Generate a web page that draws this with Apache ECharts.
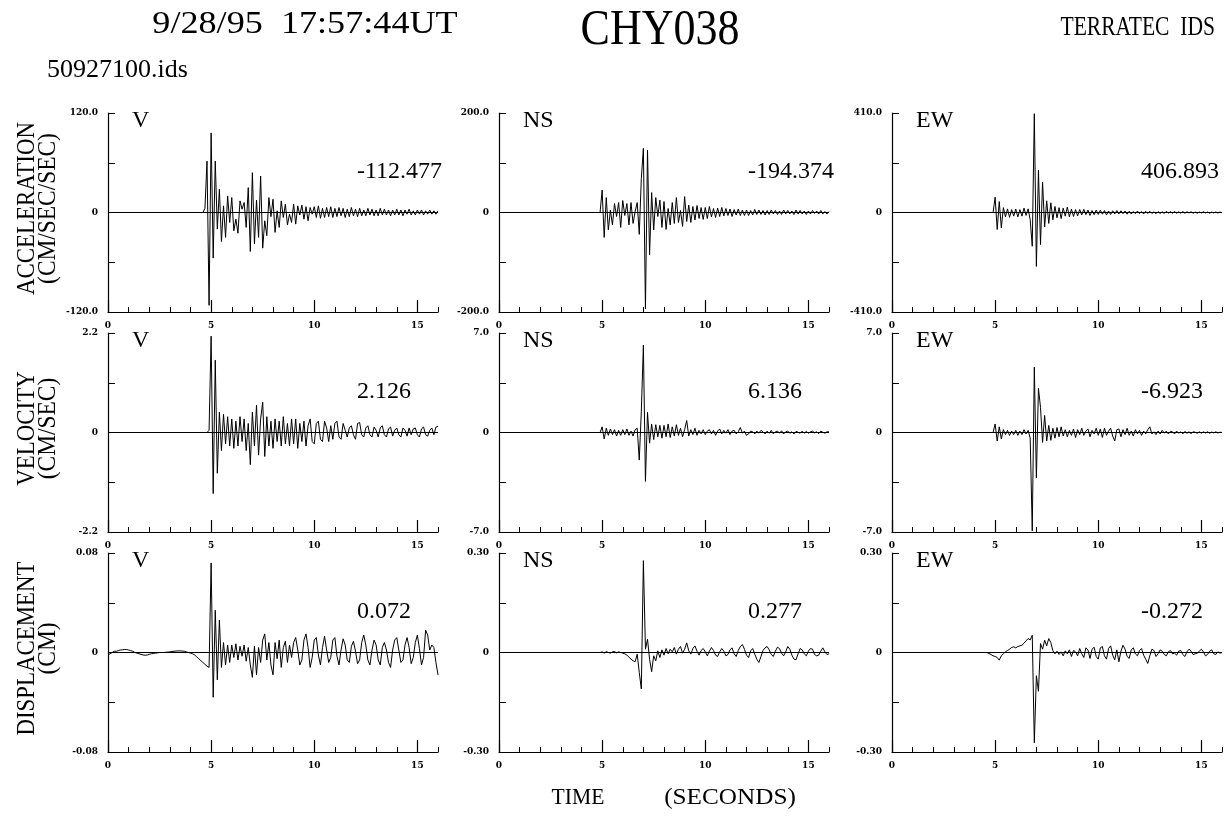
<!DOCTYPE html>
<html>
<head>
<meta charset="utf-8">
<script src="https://cdn.jsdelivr.net/npm/echarts@6/dist/echarts.min.js"></script>
<style>
  html, body { margin: 0; padding: 0; background: #fff; }
  #main { width: 1225px; height: 822px; }
</style>
</head>
<body>
<div id="main"></div>
<script>
// panel labels and axis text
const components = ["V", "NS", "EW"];
const quantities = [["ACCELERATION", "(CM/SEC/SEC)"], ["VELOCITY", "(CM/SEC)"], ["DISPLACEMENT", "(CM)"]];
const yRanges = [[120, 200, 410], [2.2, 7, 7], [0.08, 0.30, 0.30]];
const yDecimals = [1, 1, 2];
const peakValues = [["-112.477", "-194.374", "406.893"], ["2.126", "6.136", "-6.923"], ["0.072", "0.277", "-0.272"]];
const xTickLabels = [0, 5, 10, 15];

// samples every 0.1 s, 0 .. 16 s
const time = [];
for (let i = 0; i <= 160; i++) time.push(+(i * 0.1).toFixed(1));

const accV = [
  0,0,0,0,0,0,0,0,0,0,
  0,0,0,0,0,0,0,0,0,0,
  0,0,0,0,0,0,0,0,0,0,
  0,0,0,0,0,0,0,0,0,0,
  0,0,0,0,0,0,0,5,62,-112,
  96,-55,62,-20,28,-35,8,-30,20,-12,
  18,-22,-8,-25,14,4,12,-18,30,-47,
  48,-38,15,-30,44,-43,-10,-28,18,-5,
  16,-24,2,-18,14,-6,10,-15,-2,-12,
  10,-14,8,-3,9,-8,7,-10,6,-2,
  7,-6,8,-7,5,-6,6,-5,7,-6,
  5,-5,6,-4,5,-6,4,-5,6,-4,
  4,-5,5,-4,3,-4,5,-3,4,-4,
  3,-4,5,-3,4,-3,3,-4,3,-3,
  4,-3,3,-4,3,-2,4,-3,2,-3,
  3,-2,3,-3,2,-2,3,-2,2,-2,
  2
];
const accNS = [
  0,0,0,0,0,0,0,0,0,0,
  0,0,0,0,0,0,0,0,0,0,
  0,0,0,0,0,0,0,0,0,0,
  0,0,0,0,0,0,0,0,0,0,
  0,0,0,0,0,0,0,0,0,0,
  45,-50,30,-35,5,-25,18,-8,20,-30,
  24,-6,18,-25,20,-22,2,20,-44,68,
  129,-194,125,-85,40,-35,30,-8,25,-30,
  22,-34,8,-25,20,-22,30,-20,4,-28,
  32,-18,15,-20,12,-15,14,-12,10,-14,
  10,-12,12,-9,8,-10,9,-8,10,-7,
  8,-6,7,-8,6,-5,7,-6,5,-6,
  5,-6,4,-5,6,-4,5,-4,4,-5,
  4,-4,5,-3,4,-4,3,-4,5,-3,
  4,-3,3,-4,5,-3,4,-3,3,-4,
  3,-3,4,-2,3,-3,4,-3,2,-3,
  2
];
const accEW = [
  0,0,0,0,0,0,0,0,0,0,
  0,0,0,0,0,0,0,0,0,0,
  0,0,0,0,0,0,0,0,0,0,
  0,0,0,0,0,0,0,0,0,0,
  0,0,0,0,0,0,0,0,0,0,
  63,-70,45,-63,20,-18,15,-20,12,-15,
  14,-18,12,-15,18,-12,15,-30,-139,407,
  -222,174,-132,125,-60,48,-45,40,-30,25,
  -22,20,-25,18,-15,22,-18,14,-16,12,
  -14,12,-10,13,-9,10,-12,8,-9,10,
  -8,9,-7,8,-10,6,-8,7,-6,8,
  -6,7,-5,6,-7,5,-6,4,-5,6,
  -5,4,-6,5,-4,5,-4,3,-5,4,
  -4,3,-4,5,-3,4,-3,4,-3,3,
  -3,4,-3,3,-2,3,-3,2,-3,2,
  -2,3,-2,2,-3,2,-2,2,-2,2,
  -1
];
const velV = [
  0,0,0,0,0,0,0,0,0,0,
  0,0,0,0,0,0,0,0,0,0,
  0,0,0,0,0,0,0,0,0,0,
  0,0,0,0,0,0,0,0,0,0,
  0,0,0,0,0,0,0,0,0,0.05,
  2.13,-1.35,1.6,-0.9,0.45,-0.4,0.4,-0.25,0.35,-0.3,
  0.3,-0.35,0.25,-0.3,0.35,-0.2,0.3,-0.4,0.2,-0.71,
  0.45,-0.3,0.6,-0.5,0.3,0.67,-0.53,0.35,-0.3,0.25,
  -0.35,0.3,-0.2,0.25,-0.3,0.35,-0.25,0.2,-0.3,0.3,
  -0.25,0.3,-0.35,0.2,-0.2,0.25,-0.3,0.15,0.3,-0.2,
  -0.25,0.2,0.25,-0.15,-0.2,0.25,0.1,-0.2,0.15,-0.15,
  0.2,0.25,-0.1,-0.15,0.2,0.05,-0.1,0.1,0.15,-0.05,
  -0.15,0.2,0.22,-0.05,-0.1,0.1,0.15,-0.05,-0.1,0.12,
  0.05,-0.1,0.1,0.15,-0.05,-0.1,0.08,0.12,-0.08,0.05,
  0.1,-0.05,-0.1,0.1,0.05,-0.08,0.1,-0.05,0.08,0.1,
  -0.05,-0.1,0.08,0.12,-0.05,-0.08,0.05,0.1,-0.05,0.12,
  0.14
];
const velNS = [
  0,0,0,0,0,0,0,0,0,0,
  0,0,0,0,0,0,0,0,0,0,
  0,0,0,0,0,0,0,0,0,0,
  0,0,0,0,0,0,0,0,0,0,
  0,0,0,0,0,0,0,0,0,0,
  0.4,-0.45,0.3,-0.2,0.25,-0.15,0.2,-0.25,0.15,-0.2,
  0.2,-0.15,0.25,-0.2,0.1,-0.25,0.2,0.3,-1.94,1.5,
  6.14,-3.44,1.41,-0.75,0.6,-0.5,0.55,-0.3,0.5,-0.4,
  0.5,-0.3,0.6,-0.35,0.4,-0.25,0.55,-0.2,0.3,-0.3,
  0.2,0.84,-0.25,0.2,-0.15,0.3,-0.2,0.15,-0.1,0.2,
  -0.15,0.1,0.2,-0.1,0.15,-0.2,0.1,0.25,-0.1,0.15,
  -0.05,0.2,-0.15,0.1,0.15,-0.1,0.05,0.35,-0.05,0.1,
  -0.2,-0.1,0.1,0.05,-0.1,0.1,-0.05,0.15,0.05,-0.1,
  0.1,-0.05,0.15,-0.1,0.05,0.1,-0.05,0.12,-0.1,0.05,
  0.1,-0.05,0.05,-0.1,0.08,0.02,-0.05,0.1,-0.05,0.08,
  -0.05,0.05,0.1,-0.02,0.05,-0.08,0.1,0.02,-0.05,0.05,
  0.05
];
const velEW = [
  0,0,0,0,0,0,0,0,0,0,
  0,0,0,0,0,0,0,0,0,0,
  0,0,0,0,0,0,0,0,0,0,
  0,0,0,0,0,0,0,0,0,0,
  0,0,0,0,0,0,0,0,0,0,
  0.6,-0.6,0.4,-0.45,0.2,-0.15,0.15,-0.2,0.1,-0.15,
  0.15,-0.2,0.1,-0.15,0.2,-0.1,0.15,-0.4,-6.92,4.61,
  -3.2,3.1,1.77,-0.7,1.2,-0.6,0.5,-0.55,0.3,-0.4,
  0.35,-0.3,0.4,-0.25,0.2,-0.3,0.15,-0.2,0.25,-0.35,
  0.2,-0.15,0.3,-0.2,0.1,0.25,-0.3,0.15,-0.1,0.3,
  -0.2,0.25,-0.35,0.3,-0.2,0.1,0.3,-0.25,-0.6,0.2,
  0.25,-0.3,0.2,-0.15,0.3,-0.2,0.1,-0.25,0.2,-0.1,
  0.15,-0.2,0.1,-0.1,0.2,0.4,-0.1,0.05,-0.15,0.1,
  -0.1,0.15,-0.05,0.1,-0.1,0.08,0.05,-0.1,0.1,-0.05,
  0.05,-0.1,0.08,-0.05,0.05,-0.08,0.05,0.02,-0.05,0.05,
  -0.05,0.05,-0.03,0.05,-0.05,0.03,-0.02,0.05,-0.03,0.02,
  0
];
const disV = [
  -0.002,-0.001,0,0.001,0.001,0.0015,0.002,0.0022,0.0024,0.0024,
  0.002,0.0015,0.001,0,-0.0005,-0.001,-0.0015,-0.002,-0.0022,-0.002,
  -0.0015,-0.001,-0.0008,-0.0005,-0.0003,0,0,0,0.0002,0.0003,
  0.0005,0.0008,0.001,0.0012,0.0013,0.0013,0.0012,0.001,0.0005,0,
  -0.0005,-0.001,-0.002,-0.0035,-0.005,-0.0065,-0.008,-0.0095,-0.011,-0.012,
  0.072,-0.036,0.034,-0.022,0.026,-0.012,0.008,-0.01,0.006,-0.008,
  0.006,-0.004,0.007,-0.006,0.005,-0.003,0.006,-0.007,0.004,-0.01,
  -0.02,0.005,-0.018,0.004,-0.008,0.01,0.015,-0.006,0.008,-0.01,
  -0.018,0.008,-0.005,0.01,-0.012,0.004,0.009,-0.008,0.006,-0.004,
  0.008,0.012,0.002,-0.01,-0.006,0.01,0.015,0.004,-0.012,-0.004,
  0.01,0.012,-0.002,-0.01,0.004,0.013,0.002,-0.008,-0.004,0.01,
  0.012,-0.003,-0.01,0.002,0.011,0.006,-0.006,-0.008,0.005,0.009,
  0.001,-0.009,-0.006,0.008,0.014,0.006,-0.006,-0.01,0.002,0.01,
  0.006,-0.006,-0.01,0.004,0.008,0.002,-0.008,-0.012,0.002,0.01,
  0.012,0.002,-0.008,-0.006,0.006,0.012,0.004,-0.009,-0.004,0.008,
  0.014,0.003,-0.01,-0.004,0.018,0.014,0.002,0.006,0.004,-0.008,
  -0.018
];
const disNS = [
  0,0,0,0,0,0,0,0,0,0,
  0,0,0,0,0,0,0,0,0,0,
  0,0,0,0,0,0,0,0,0,0,
  0,0,0,0,0,0,0,0,0,0,
  0,0,0,0,0,0,0,0,0,0,
  0.002,-0.002,0.003,0,-0.002,0.002,0.003,-0.001,0.002,0,
  -0.002,-0.004,-0.008,-0.014,-0.02,-0.025,-0.028,-0.005,-0.06,-0.11,
  0.277,0.01,0.04,-0.02,-0.058,-0.01,-0.025,0.005,-0.015,0.008,
  -0.008,0.012,-0.004,0.01,0.002,0.015,-0.005,0.01,0.018,-0.002,
  0.01,0.029,0.005,-0.005,0.012,0.02,0.004,-0.008,0.006,0.012,
  0.002,-0.01,0.004,0.015,0.006,-0.008,-0.012,0.002,0.012,0.004,
  -0.01,-0.006,0.008,0.014,-0.004,-0.012,0.006,0.018,0.024,0.01,
  -0.008,-0.015,0.005,0.012,-0.005,-0.02,-0.03,-0.012,0.006,0.014,
  0.018,0.008,-0.006,-0.012,0.004,0.016,0.012,-0.002,-0.01,0.002,
  0.018,0.01,-0.008,-0.02,-0.022,-0.004,0.012,0.008,-0.004,-0.01,
  0.004,0.012,0.01,-0.006,-0.01,-0.008,0.004,0.014,0.002,-0.006,
  -0.004
];
const disEW = [
  0,0,0,0,0,0,0,0,0,0,
  0,0,0,0,0,0,0,0,0,0,
  0,0,0,0,0,0,0,0,0,0,
  0,0,0,0,0,0,0,0,0,0,
  0,0,0,0,0,0,0,-0.003,-0.006,-0.01,
  -0.012,-0.015,-0.023,-0.01,-0.004,0.002,0.006,0.01,0.015,0.017,
  0.014,0.018,0.02,0.022,0.028,0.035,0.042,0.038,0.052,-0.272,
  -0.07,-0.117,0.027,0.01,0.037,0.02,0.042,0.03,0.005,-0.004,
  0.004,-0.006,0.002,-0.01,0.005,-0.004,0.008,-0.012,0.006,0.002,
  -0.01,0.012,-0.004,-0.015,0.014,0.008,-0.018,0.01,0.016,-0.012,
  -0.02,0.014,0.018,-0.01,-0.02,0.012,0.02,-0.008,-0.022,0.008,
  -0.028,0.004,0.022,0.01,-0.012,-0.018,0.008,0.014,-0.004,-0.01,
  0.006,0.012,-0.008,-0.02,-0.033,-0.01,0.01,0.006,-0.012,-0.004,
  0.008,0.004,-0.006,-0.01,0.002,0.006,-0.004,-0.002,-0.008,0.004,
  0.006,-0.006,-0.012,0.002,0.01,0.004,-0.006,-0.004,-0.002,0.004,
  0.01,0.002,-0.01,-0.006,0.004,0.008,-0.004,-0.006,0.002,-0.002,
  0
];
const traces = [[accV, accNS, accEW], [velV, velNS, velEW], [disV, disNS, disEW]];

// layout
const colLeft = [108, 499, 892];
const rowTop = [113, 333, 553];
const plotW = 330, plotH = 199;
const serif = '"Liberation Serif", "Times New Roman", serif';
const tickFont = { fontFamily: '"DejaVu Serif", serif', fontWeight: "bold", fontSize: 9, color: "#000" };
const black = { color: "#000", width: 1.2 };

const grid = [], xAxis = [], yAxis = [], series = [], graphic = [];

for (let r = 0; r < 3; r++) {
  for (let c = 0; c < 3; c++) {
    const k = r * 3 + c;
    const R = yRanges[r][c];
    const d = yDecimals[r];
    grid.push({ left: colLeft[c], top: rowTop[r], width: plotW, height: plotH });
    // minor ticks every second
    xAxis.push({
      gridIndex: k, type: "value", min: 0, max: 16, interval: 1, position: "bottom",
      axisLine: { onZero: false, lineStyle: black },
      axisTick: { inside: true, length: 5, lineStyle: { color: "#000", width: 1 } },
      axisLabel: { show: false }, splitLine: { show: false }
    });
    // major ticks + labels
    xAxis.push({
      gridIndex: k, type: "value", min: 0, max: 16, position: "bottom",
      axisLine: { show: false, onZero: false },
      axisTick: { inside: true, length: 12, customValues: xTickLabels, lineStyle: { color: "#000", width: 1.2 } },
      axisLabel: Object.assign({ customValues: xTickLabels, margin: 9 }, tickFont),
      splitLine: { show: false }
    });
    yAxis.push({
      gridIndex: k, type: "value", min: -R, max: R, interval: R / 2,
      axisLine: { show: true, onZero: false, lineStyle: black },
      axisTick: { show: true, inside: true, length: 7, lineStyle: { color: "#000", width: 1 } },
      axisLabel: Object.assign({
        margin: 10,
        formatter: v => {
          if (Math.abs(v) < R * 1e-6) return "0";
          if (Math.abs(Math.abs(v) - R) < R * 1e-6) return (v < 0 ? "-" : "") + R.toFixed(d);
          return "";
        }
      }, tickFont),
      splitLine: { show: false }
    });
    const vals = traces[r][c];
    series.push({
      type: "line", xAxisIndex: 2 * k, yAxisIndex: k,
      data: time.map((t, i) => [t, vals[i]]),
      showSymbol: false, symbol: "none", sampling: null,
      lineStyle: { color: "#000", width: 1 },
      markLine: {
        silent: true, symbol: ["none", "none"], label: { show: false }, animation: false,
        lineStyle: { color: "#000", width: 1, type: "solid" },
        data: [{ yAxis: 0 }]
      }
    });
    graphic.push({
      type: "text", x: colLeft[c] + 24, y: rowTop[r] - 4,
      style: { text: components[c], font: "24px " + serif, fill: "#000", textVerticalAlign: "top", verticalAlign: "top" }
    });
    graphic.push({
      type: "text", x: colLeft[c] + 249, y: rowTop[r] + 59,
      style: { text: peakValues[r][c], font: "24px " + serif, fill: "#000", textVerticalAlign: "middle", verticalAlign: "middle" }
    });
  }
  // rotated quantity titles
  const mid = rowTop[r] + plotH / 2 - 4;
  graphic.push({
    type: "text", x: 27, y: mid, rotation: Math.PI / 2, scaleX: 0.88,
    style: { text: quantities[r][0], font: "26px " + serif, fill: "#000", textAlign: "center", align: "center", textVerticalAlign: "middle", verticalAlign: "middle" }
  });
  graphic.push({
    type: "text", x: 48, y: mid, rotation: Math.PI / 2, scaleX: 0.9,
    style: { text: quantities[r][1], font: "26px " + serif, fill: "#000", textAlign: "center", align: "center", textVerticalAlign: "middle", verticalAlign: "middle" }
  });
}

function headText(text, x, y, size, align, scaleX) {
  return {
    type: "text", x: x, y: y, scaleX: scaleX || 1,
    style: { text: text, font: size + "px " + serif, fill: "#000", textAlign: align, align: align, textVerticalAlign: "middle", verticalAlign: "middle" }
  };
}
graphic.push(headText("9/28/95  17:57:44UT", 305, 25, 32, "center", 1.13));
graphic.push(headText("50927100.ids", 47, 70, 26, "left", 1));
graphic.push(headText("CHY038", 660, 31, 50, "center", 0.88));
graphic.push(headText("TERRATEC  IDS", 1215, 28, 28, "right", 0.77));
graphic.push(headText("TIME", 578, 798, 24, "center", 0.9));
graphic.push(headText("(SECONDS)", 730, 798, 24, "center", 1.05));

const chart = echarts.init(document.getElementById("main"), null, { renderer: "canvas" });
chart.setOption({
  animation: false,
  backgroundColor: "#fff",
  grid: grid, xAxis: xAxis, yAxis: yAxis, series: series, graphic: graphic
});
</script>
</body>
</html>
